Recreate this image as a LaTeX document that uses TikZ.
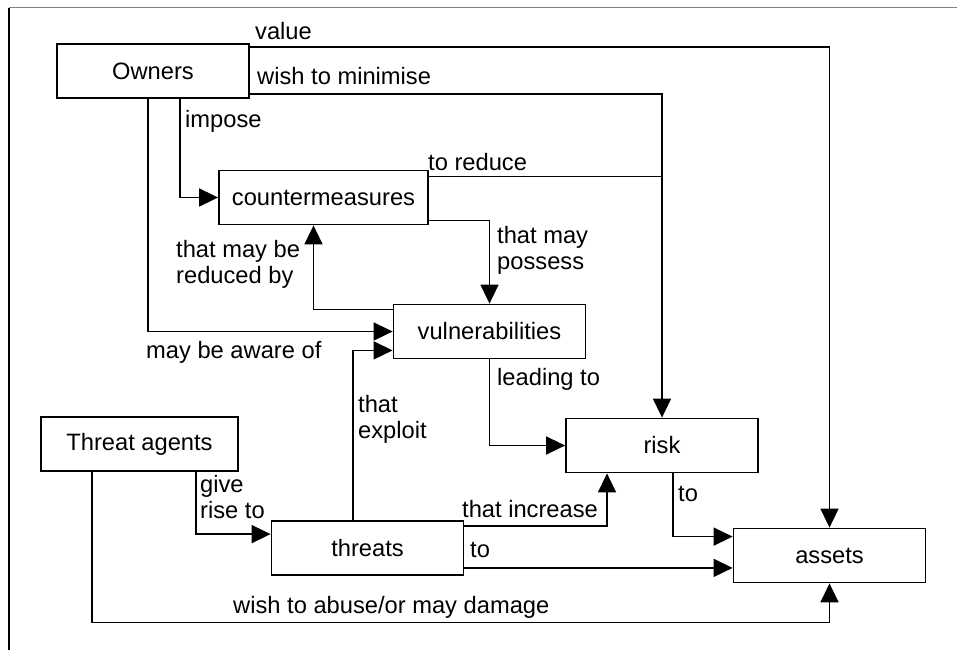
\documentclass[tikz,border=0pt]{standalone}
\usepackage{fontspec}
\setmainfont{Liberation Sans}
\usetikzlibrary{arrows.meta,calc}
\newcommand\diagfont{\fontsize{23.7}{26.5}\selectfont}
\tikzset{
  box/.style={draw,line width=1.8pt,minimum width=192pt,minimum height=54pt,inner sep=0pt,font=\diagfont},
  lbl/.style={inner sep=0pt,font=\diagfont,align=left},
  link/.style={line width=1.7pt,-{Triangle[length=19pt,width=18pt]}},
  plain/.style={line width=1.7pt},
}

\begin{document}
\begin{tikzpicture}[x=1pt,y=-1pt]
\useasboundingbox (0,0) rectangle (957,650);

% frame
\draw[gray,line width=1pt] (957,8) -- (9,8);
\draw[line width=1.2pt] (9,8) -- (9,650);

% boxes
\node[box] (owners) at (153,71) {Owners};
\node[box,minimum width=209pt] (cm) at (323.5,197.5) {countermeasures};
\node[box] (vuln) at (489.5,331.5) {vulnerabilities};
\node[box] (risk) at (662,445.5) {risk};
\node[box,minimum width=197pt] (agents) at (139.5,444) {Threat agents};
\node[box] (threats) at (367.5,548) {threats};
\node[box] (assets) at (829.5,555.5) {assets};

% owners
\draw[link] ([yshift=-4pt]owners.north east) -| (assets.north);
\draw[link] ([yshift=5pt]owners.south east) -| (risk.north);
\draw[link] ([xshift=27pt]owners.south) |- (cm.west);
\draw[link] ([xshift=-5pt]owners.south) |- (vuln.west);

% countermeasures
\coordinate (cmred) at ([yshift=-7pt]cm.north east);
\draw[plain] (cmred) -- (cmred -| risk.north);
\draw[link] ([yshift=5pt]cm.south east) -| (vuln.north);

% vulnerabilities
\draw[link] ([yshift=-6pt]vuln.north west) -| ([xshift=-10pt]cm.south);
\draw[link] (vuln.south) |- (risk.west);

% threats
\draw[link] ([xshift=-14.5pt]threats.north) |- ([yshift=9pt]vuln.south west);
\draw[link] ([xshift=56.5pt]agents.south) |- ([yshift=-14pt]threats.north west);
\draw[link] ([yshift=-6pt]threats.north east) -| ([xshift=-55pt]risk.south);
\coordinate (thto) at ([yshift=8pt]threats.south east);
\draw[link] (thto) -- (thto -| assets.west);
\draw[link] ([xshift=11pt]risk.south) |- ([yshift=-9pt]assets.north west);
\draw[link] ([xshift=-47.5pt]agents.south) |- ([yshift=-39pt]assets.south) -- (assets.south);

% labels
\node[lbl,anchor=base west] (lvalue) at (255,40) {value};
\node[lbl,anchor=base west] (lminimise) at (257,85) {wish to minimise};
\node[lbl,anchor=base west] (limpose) at (185,127) {impose};
\node[lbl,anchor=base west] (lreduce) at (428,170) {to reduce};
\node[lbl,anchor=north west] (lreduced) at (176,240) {that may be\\reduced by};
\node[lbl,anchor=north west] (lpossess) at (497,226) {that may\\possess};
\node[lbl,anchor=base west] (laware) at (146,358) {may be aware of};
\node[lbl,anchor=base west] (lleading) at (497,385) {leading to};
\node[lbl,anchor=north west] (lexploit) at (358,395) {that\\exploit};
\node[lbl,anchor=north west] (lgive) at (200,475) {give\\rise to};
\node[lbl,anchor=base west] (lincrease) at (462,517) {that increase};
\node[lbl,anchor=base west] (lto) at (470,557) {to};
\node[lbl,anchor=base west] (lriskto) at (678,501) {to};
\node[lbl,anchor=base west] (labuse) at (233,613) {wish to abuse/or may damage};

\end{tikzpicture}
\end{document}
